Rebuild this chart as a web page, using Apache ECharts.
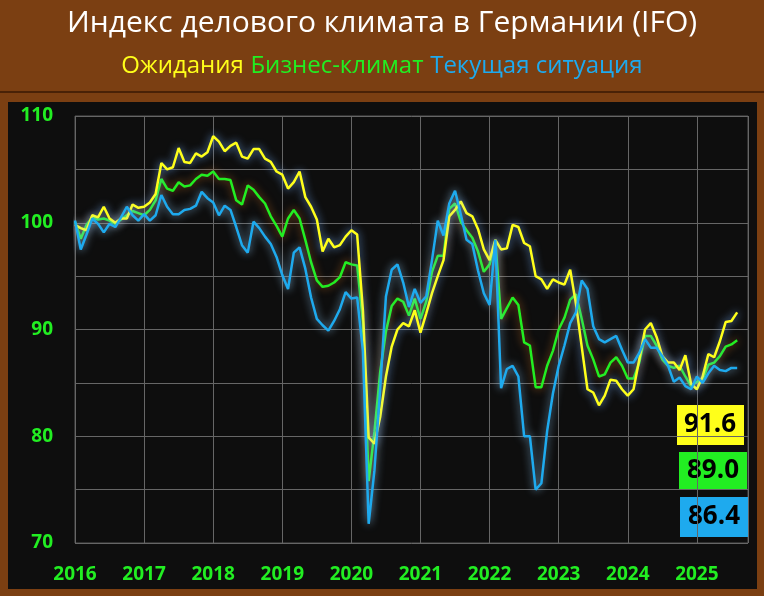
<!DOCTYPE html>
<html><head><meta charset="utf-8">
<script src="https://cdn.jsdelivr.net/npm/echarts@6/dist/echarts.min.js"></script>
<style>html,body{margin:0;padding:0;background:#7B3F12;}#c{width:764px;height:596px;}</style>
</head><body><div id="c"></div>
<script>
const startYear = 2016;
const expectations = [99.8,99.5,99.3,100.7,100.5,101.5,100.4,100.0,100.4,100.4,101.7,101.4,
101.5,101.9,102.7,105.6,105.0,105.2,107.0,105.7,105.6,106.5,106.2,106.6,
108.1,107.6,106.7,107.2,107.5,106.2,106.0,106.9,106.9,106.0,105.7,104.8,
104.5,103.2,103.8,104.8,102.4,101.5,100.3,97.3,98.5,97.7,97.9,98.7,
99.3,98.9,91.8,79.9,79.3,81.8,85.6,88.4,90.0,90.6,90.3,91.8,
89.7,91.5,93.4,95.0,96.5,100.6,101.2,102.0,100.9,100.6,99.4,97.5,
96.5,98.4,97.5,97.6,99.8,99.6,98.1,97.8,95.0,94.7,93.8,94.7,
94.4,94.2,95.6,92.4,88.4,84.4,84.1,82.9,83.8,85.3,85.2,84.4,
83.8,84.4,87.2,90.0,90.6,89.3,87.5,86.9,86.9,86.2,87.6,84.9,
84.4,85.6,87.7,87.4,88.9,90.7,90.8,91.6];
const climate = [100.1,98.5,99.8,100.5,100.3,100.4,100.2,99.9,100.3,100.7,101.1,100.9,
100.7,101.2,102.1,104.1,103.2,103.0,103.8,103.4,103.5,104.1,104.5,104.4,
104.8,104.1,104.1,104.0,102.1,101.7,103.5,103.1,102.4,101.8,100.6,99.7,
98.7,100.4,101.2,100.4,98.4,96.3,94.6,94.0,94.1,94.4,94.9,96.3,
96.1,96.0,90.7,75.8,80.4,86.0,89.8,92.2,92.9,92.6,91.3,92.9,
91.0,92.6,95.4,96.9,96.9,101.3,101.8,100.1,99.3,98.6,97.3,95.4,
96.1,98.3,91.0,92.0,93.0,92.3,88.8,88.5,84.6,84.6,86.6,88.0,
90.0,91.1,92.8,93.3,91.0,88.5,87.2,85.6,85.8,86.9,87.4,86.6,
85.4,85.4,86.9,89.4,89.4,88.5,87.2,86.6,86.4,86.6,85.6,84.7,
85.1,85.3,86.7,86.9,87.5,88.4,88.6,89.0];
const current = [100.2,97.5,98.9,100.4,99.9,99.1,99.9,99.6,100.5,101.5,100.7,100.2,
100.8,100.2,100.7,102.6,101.5,100.8,100.8,101.2,101.3,101.6,102.9,102.3,
101.9,100.7,101.6,101.2,99.6,97.9,97.2,100.1,99.5,98.7,98.0,96.8,
95.1,93.8,97.2,97.7,95.7,93.0,91.0,90.4,89.9,90.8,91.9,93.5,
92.9,93.0,88.0,71.8,76.8,84.4,93.1,95.6,96.1,94.4,92.1,93.8,
92.5,93.1,96.5,100.2,98.8,101.8,103.0,100.8,98.4,98.0,95.5,93.4,
92.3,98.4,84.5,86.3,86.6,85.6,80.0,80.0,75.0,75.6,80.5,84.0,
86.6,88.5,90.6,91.6,94.6,93.8,90.3,89.1,88.8,89.1,89.4,88.1,
86.9,86.9,87.8,89.1,88.3,88.3,87.5,86.6,85.1,85.5,84.7,84.4,
85.6,85.0,85.9,86.6,86.2,86.1,86.4,86.4];
const yearTicks = [2016,2017,2018,2019,2020,2021,2022,2023,2024,2025];
const names = ['Ожидания','Бизнес-климат','Текущая ситуация'];
const colors = ['#FFFF1A','#22EE22','#1EAAEE'];
const glow = ['rgba(120,180,255,0.9)','rgba(255,140,40,0.6)','rgba(150,210,255,0.8)'];

const toPts = arr => arr.map((v,i)=>[startYear + i/12, v]);
const chart = echarts.init(document.getElementById('c'));
const sers = [climate, expectations, current];
const order = [1,0,2];
chart.setOption({
  backgroundColor:'#7B3F12',
  animation:false,
  graphic:[
    {type:'rect',shape:{x:8,y:102,width:749,height:487},style:{fill:'#0E0E0E'},z:-10},
    {type:'line',shape:{x1:0,y1:92,x2:764,y2:92},style:{stroke:'#3a1a05',lineWidth:1.5},z:-10},
    {type:'text',left:'center',top:8,style:{text:'Индекс делового климата в Германии (IFO)',fill:'#fff',font:'30px "Open Sans", sans-serif'}},
    {type:'text',left:'center',top:54,style:{rich:{
      a:{fill:colors[0],font:'24px "Open Sans", sans-serif'},
      b:{fill:colors[1],font:'24px "Open Sans", sans-serif'},
      c:{fill:colors[2],font:'24px "Open Sans", sans-serif'}},
      text:'{a|'+names[0]+'}  {b|'+names[1]+'}  {c|'+names[2]+'}'}},
    {type:'rect',shape:{x:677,y:405,width:67,height:40},style:{fill:colors[0]}},
    {type:'text',x:710,y:425,style:{text:expectations[expectations.length-1].toFixed(1),fill:'#000',font:'bold 26px "Open Sans", sans-serif',align:'center',verticalAlign:'middle'}},
    {type:'rect',shape:{x:679,y:452,width:68,height:38},style:{fill:colors[1]}},
    {type:'text',x:713,y:471,style:{text:climate[climate.length-1].toFixed(1),fill:'#000',font:'bold 26px "Open Sans", sans-serif',align:'center',verticalAlign:'middle'}},
    {type:'rect',shape:{x:680,y:497,width:68,height:40},style:{fill:colors[2]}},
    {type:'text',x:714,y:517,style:{text:current[current.length-1].toFixed(1),fill:'#000',font:'bold 26px "Open Sans", sans-serif',align:'center',verticalAlign:'middle'}}
  ],
  grid:{left:75,right:16,top:116,bottom:53,show:true,borderColor:'#555',borderWidth:1},
  xAxis:{type:'value',min:2016,max:2025.74,interval:1,
    axisLine:{show:false},axisTick:{show:false},
    splitLine:{lineStyle:{color:'#666',width:1}},
    axisLabel:{color:'#22EE22',fontWeight:'bold',fontSize:19,fontFamily:'"Open Sans", sans-serif',margin:22,
      formatter:v=>yearTicks.includes(Math.round(v))&&Math.abs(v-Math.round(v))<1e-6?String(Math.round(v)):'',showMaxLabel:false}},
  yAxis:{type:'value',min:70,max:110,interval:5,
    axisLine:{show:false},axisTick:{show:false},
    splitLine:{lineStyle:{color:'#666',width:1}},
    axisLabel:{color:'#22EE22',fontWeight:'bold',fontSize:19,fontFamily:'"Open Sans", sans-serif',margin:22,
      formatter:v=>v%10===0?String(v):''}},
  series:order.map(k=>({
    type:'line',name:names[k],data:toPts([expectations,climate,current][k]),
    showSymbol:false,symbol:'none',
    lineStyle:{color:colors[k],width:2.5,shadowBlur:8,shadowColor:glow[k]}
  }))
});
</script></body></html>
